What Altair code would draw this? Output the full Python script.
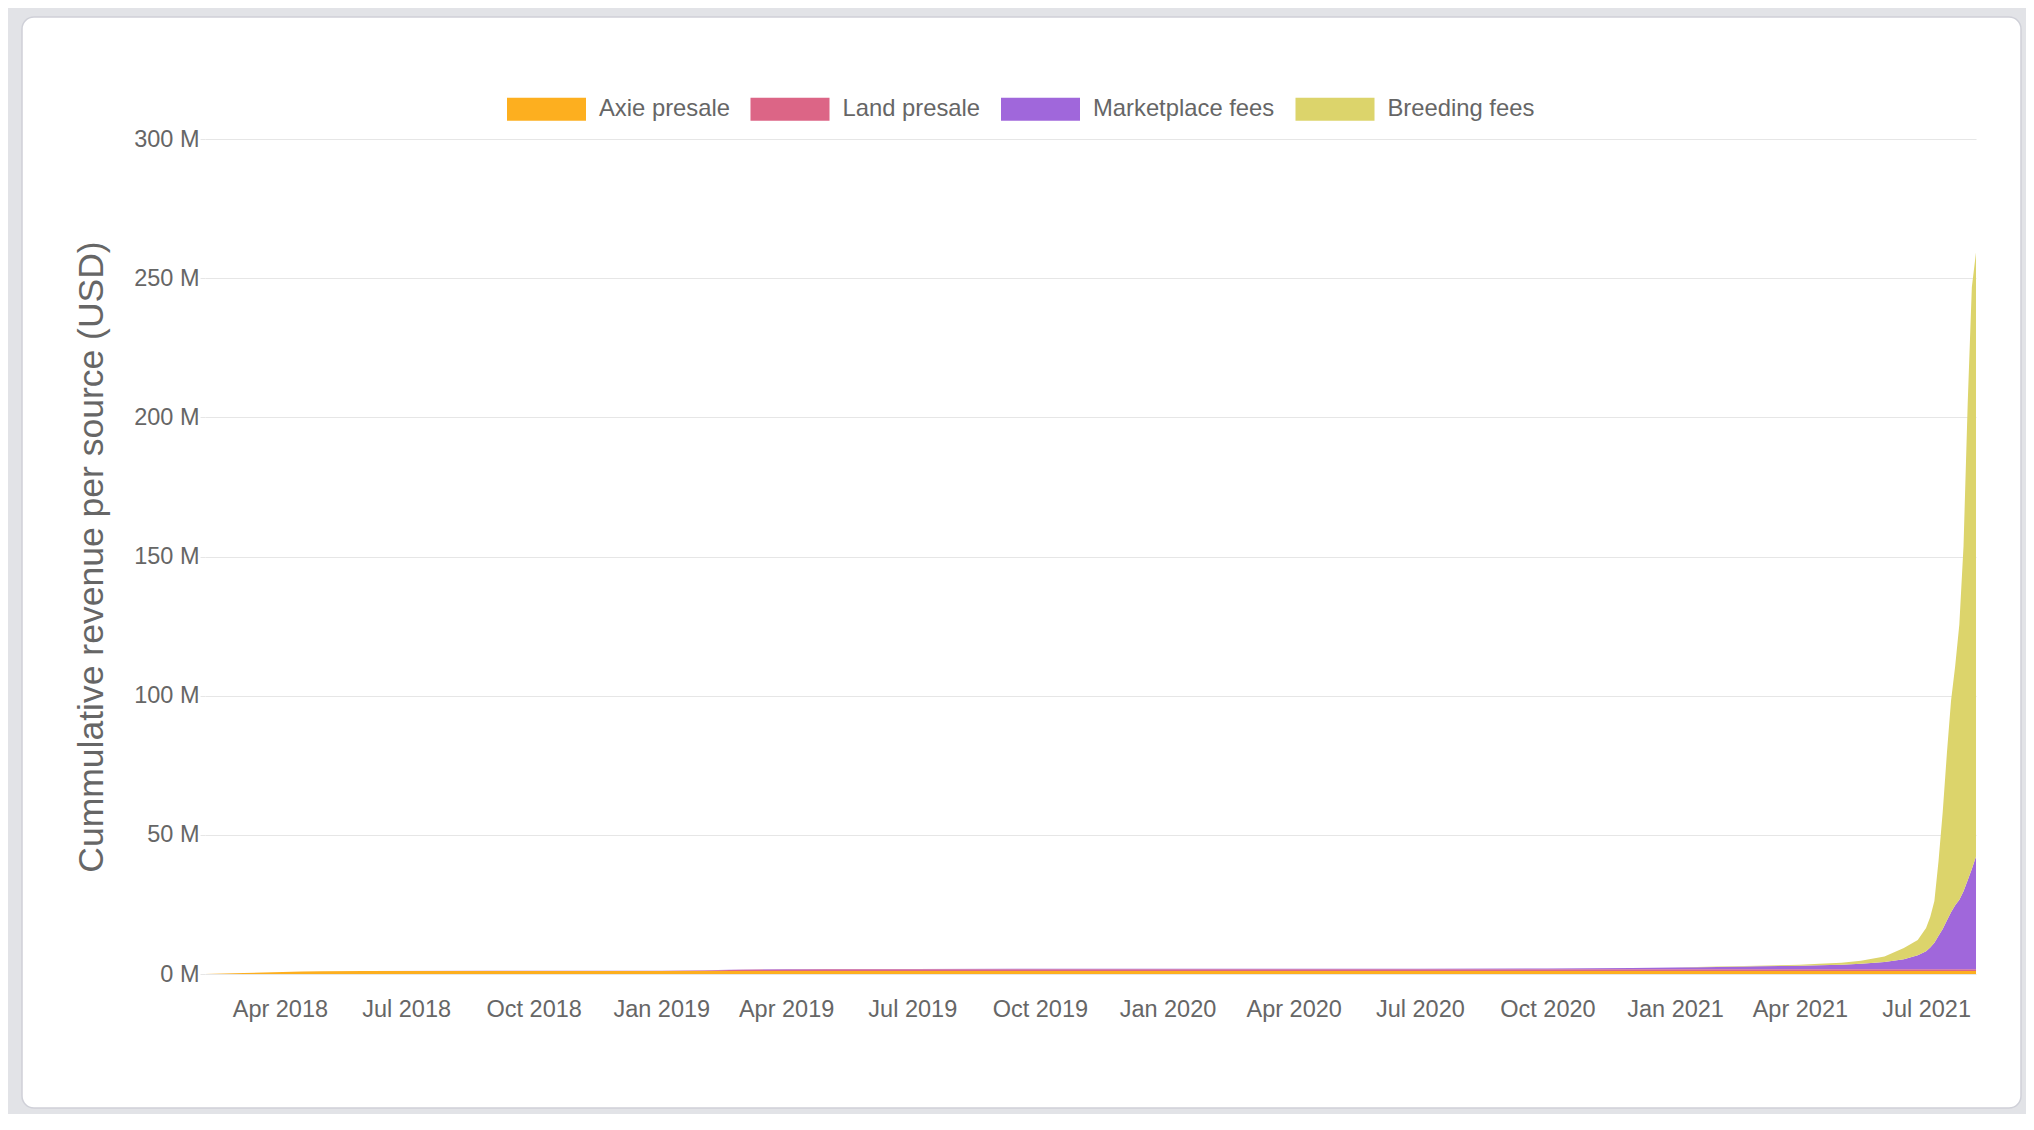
import altair as alt
import pandas as pd

# ---------------- data (cumulative revenue, millions USD) ----------------
dates = [
    "2018-02-06", "2018-02-20", "2018-03-06", "2018-03-20", "2018-04-03", "2018-04-17",
    "2018-05-01", "2018-06-01", "2018-09-01", "2019-01-01", "2019-01-15", "2019-02-01",
    "2019-03-01", "2019-04-01", "2019-05-01", "2019-07-01", "2019-10-01", "2020-01-01",
    "2020-04-01", "2020-07-01", "2020-10-01", "2020-11-01", "2020-12-01", "2021-01-01",
    "2021-02-01", "2021-03-01", "2021-04-01", "2021-04-15", "2021-05-01", "2021-05-15",
    "2021-06-01", "2021-06-15", "2021-06-25", "2021-07-01", "2021-07-04", "2021-07-07",
    "2021-07-10", "2021-07-13", "2021-07-16", "2021-07-19", "2021-07-22", "2021-07-25",
    "2021-07-28", "2021-07-31", "2021-08-03", "2021-08-06",
]

axie_presale = [0, 0.15, 0.35, 0.55, 0.75, 0.9, 1.0, 1.05, 1.1] + [1.1] * 37

land_presale = [0] * 9 + [0, 0.05, 0.2, 0.4, 0.55, 0.6] + [0.6] * 31

marketplace_fees = [
    0, 0, 0.005, 0.01, 0.01, 0.015, 0.02, 0.03, 0.05, 0.07, 0.08, 0.09,
    0.1, 0.11, 0.12, 0.14, 0.16, 0.18, 0.2, 0.23, 0.3, 0.4, 0.5, 0.65,
    0.85, 1.05, 1.3, 1.45, 1.65, 2.0, 2.6, 3.6, 5.0, 6.5, 7.8, 9.5,
    12, 14.5, 17.5, 20.5, 23, 25, 28, 32, 36, 40.5,
]

breeding_fees = [0] * 23 + [
    0.03, 0.1, 0.2, 0.35, 0.5, 0.7, 1.1, 2.0, 4.0, 5.5, 8.3, 11, 15,
    27, 42, 60, 76, 86, 99, 124, 171, 209, 217,
]

series_names = ["Axie presale", "Land presale", "Marketplace fees", "Breeding fees"]
series_colors = ["#FDAF1F", "#DC6586", "#A067DB", "#DCD46B"]
series_values = [axie_presale, land_presale, marketplace_fees, breeding_fees]
y_ticks = [0, 50, 100, 150, 200, 250, 300]
y_title = "Cummulative revenue per source (USD)"

rows = []
for i, (name, vals) in enumerate(zip(series_names, series_values)):
    for d, v in zip(dates, vals):
        rows.append({"date": d, "series": name, "order": i, "value": v})
df = pd.DataFrame(rows)

# ---------------- layout ----------------
W, H = 1771, 835
FONT = "Liberation Sans"
TXT = "#666666"
GRID = "#e6e6e6"
BG = "#e2e3e7"

# card edges relative to plot origin
CL, CR, CT, CB = -183, W + 45, -122, H + 134

area = alt.Chart(df).mark_area(interpolate="linear", opacity=1).encode(
    x=alt.X(
        "date:T",
        scale=alt.Scale(type="utc", nice=False),
        axis=alt.Axis(
            title=None,
            labelExpr="utcFormat(datum.value, '%b %Y')",
            tickCount=alt.TimeIntervalStep(interval="month", step=3),
            grid=False, domain=False, ticks=False, labelPadding=23,
            labelFontSize=23.5, labelColor=TXT, labelFont=FONT,
            labelOverlap=False, labelFlush=False,
        ),
    ),
    y=alt.Y(
        "value:Q",
        stack="zero",
        scale=alt.Scale(domain=[0, 300], nice=False),
        axis=alt.Axis(
            values=y_ticks, labelExpr="datum.value + ' M'",
            title=y_title, titleFontSize=35.5, titleFontWeight="normal",
            titleColor=TXT, titleFont=FONT, titleAngle=270,
            titleX=-114, titleY=H / 2, titleBaseline="middle", titleAlign="center",
            domain=False, ticks=True, tickSize=5, tickColor=GRID,
            grid=True, gridColor=GRID, gridWidth=1.2,
            labelPadding=1, labelFontSize=23.5, labelColor=TXT, labelFont=FONT,
        ),
    ),
    color=alt.Color(
        "series:N",
        scale=alt.Scale(domain=series_names, range=series_colors),
        legend=alt.Legend(
            title=None, orient="none", legendX=302, legendY=-69.5,
            direction="horizontal",
            symbolType="M-1,-0.2911H1V0.2911H-1Z", symbolSize=6241,
            symbolStrokeWidth=0, symbolOpacity=1,
            labelFontSize=23.8, labelColor=TXT, labelFont=FONT,
            labelOffset=13, columnPadding=20.5, padding=0, labelLimit=400,
        ),
    ),
    order=alt.Order("order:Q", sort="ascending"),
)

frame = alt.Chart(alt.Data(values=[{"k": 0}])).mark_rect(
    filled=False, stroke=BG, strokeWidth=60, cornerRadius=42
).encode(
    x=alt.value(CL - 30), x2=alt.value(CR + 30),
    y=alt.value(CT - 30), y2=alt.value(CB + 30),
)

edge = alt.Chart(alt.Data(values=[{"k": 0}])).mark_rect(
    filled=False, stroke="#cfd0d8", strokeWidth=1.5, cornerRadius=12
).encode(
    x=alt.value(CL), x2=alt.value(CR),
    y=alt.value(CT), y2=alt.value(CB),
)

chart = alt.layer(area, frame, edge).properties(
    width=W, height=H,
    padding={"left": 197, "top": 131, "right": 50, "bottom": 140},
    autosize=alt.AutoSizeParams(type="none"),
).configure(background="white", font=FONT).configure_view(stroke=None)

chart.save("out.html", embed_options={"renderer": "svg", "actions": False})
